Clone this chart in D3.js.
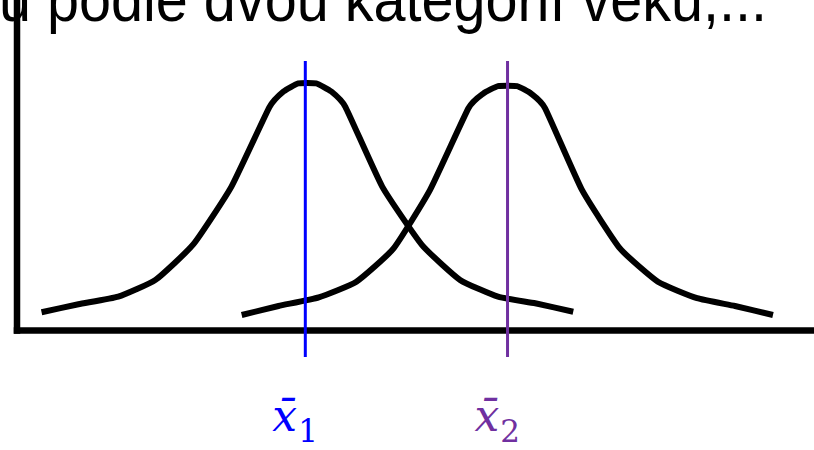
<!DOCTYPE html>
<html>
<head>
<meta charset="utf-8">
<script src="https://cdn.jsdelivr.net/npm/d3@7"></script>
<style>
  html, body { margin: 0; padding: 0; background: #fff; }
  svg { display: block; }
</style>
</head>
<body>
<svg id="chart" width="814" height="450"></svg>
<script>
// Two group distributions (x in arbitrary units, density height in arbitrary units)
const group1X = [0.66, 1.63, 2.68, 3.66, 4.66, 5.66, 6.66, 7.03, 7.42, 7.89, 8.29, 8.66, 9.63, 10.68, 11.68, 12.68, 13.66, 14.66];
const group1Y = [0.59, 0.86, 1.11, 1.67, 2.86, 4.78, 7.43, 7.95, 8.22, 8.22, 7.95, 7.44, 4.78, 2.83, 1.67, 1.11, 0.89, 0.61];
const group2X = [5.93, 6.90, 7.96, 8.95, 9.93, 10.89, 11.90, 12.29, 12.68, 13.18, 13.55, 13.92, 14.89, 15.89, 16.89, 17.92, 18.92, 19.92];
const group2Y = [0.50, 0.80, 1.09, 1.61, 2.72, 4.67, 7.39, 7.88, 8.13, 8.13, 7.88, 7.39, 4.67, 2.72, 1.61, 1.06, 0.80, 0.50];

// Group means and their labels
const means = [7.605, 12.93];
const meanLabels = ["1", "2"];
const meanColors = ["#0000ff", "#7030a0"];
const meanLineSpan = [-0.9, 8.97];

const titleText = "u podle dvou kategorií věku,...";

const svg = d3.select("#chart");

const x = d3.scaleLinear().domain([0, 21]).range([16.5, 814]);
const y = d3.scaleLinear().domain([0, 11]).range([330, 0]);

// Heading text (partly cut off at the top edge)
svg.append("text")
  .attr("x", -1)
  .attr("y", 21)
  .attr("font-family", "Liberation Sans, Arial, sans-serif")
  .attr("font-size", 63)
  .attr("fill", "#000")
  .attr("textLength", 768)
  .attr("lengthAdjust", "spacingAndGlyphs")
  .text(titleText);

// Axes without ticks
const yAxis = d3.axisLeft(y).tickValues([]).tickSizeOuter(0);
const xAxis = d3.axisBottom(x).tickValues([]).tickSizeOuter(0);

const gy = svg.append("g").attr("transform", `translate(${x(0)},0)`).call(yAxis);
const gx = svg.append("g").attr("transform", `translate(0,${y(0)})`).call(xAxis);
[gx, gy].forEach(g => g.select(".domain")
  .attr("stroke", "#000")
  .attr("stroke-width", 6.5)
  .attr("stroke-linecap", "square"));

// Distribution curves
const line = d3.line()
  .x(d => x(d[0]))
  .y(d => y(d[1]))
  .curve(d3.curveCardinal.tension(0.55));
[[group1X, group1Y], [group2X, group2Y]].forEach(([xs, ys]) => {
  svg.append("path")
    .datum(xs.map((v, i) => [v, ys[i]]))
    .attr("d", line)
    .attr("fill", "none")
    .attr("stroke", "#000")
    .attr("stroke-width", 6)
    .attr("stroke-linejoin", "round");
});

// Mean lines
means.forEach((m, i) => {
  svg.append("line")
    .attr("x1", x(m)).attr("x2", x(m))
    .attr("y1", y(meanLineSpan[0])).attr("y2", y(meanLineSpan[1]))
    .attr("stroke", meanColors[i])
    .attr("stroke-width", 3);
});

// Mean labels: x-bar with subscript
means.forEach((m, i) => {
  const t = svg.append("text")
    .attr("x", x(m) - 33)
    .attr("y", 431)
    .attr("fill", meanColors[i])
    .attr("font-family", "DejaVu Serif, serif");
  t.append("tspan")
    .attr("font-style", "italic")
    .attr("font-size", 44)
    .text("x\u0304");
  t.append("tspan")
    .attr("font-size", 31)
    .attr("dy", 11)
    .attr("dx", 1)
    .text(meanLabels[i]);
});
</script>
</body>
</html>
